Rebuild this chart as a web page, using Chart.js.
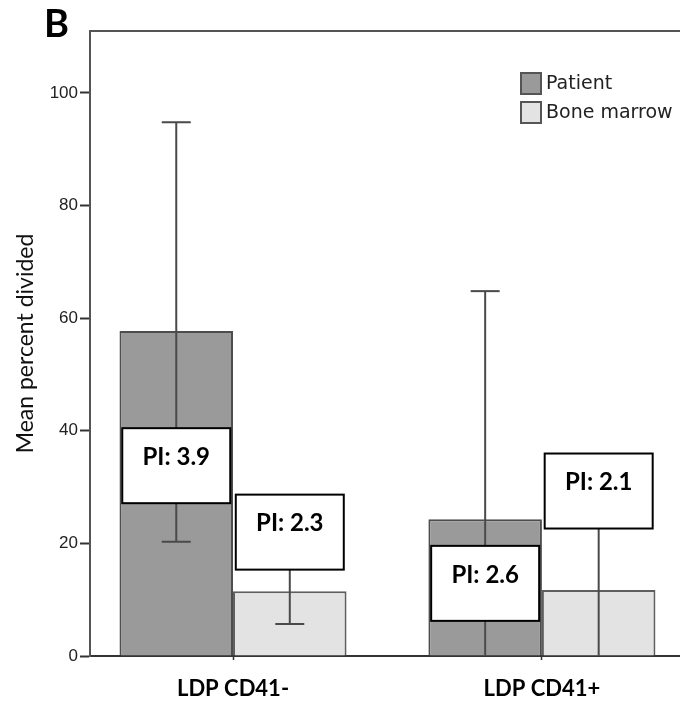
<!DOCTYPE html>
<html>
<head>
<meta charset="utf-8">
<title>Mean percent divided</title>
<script src="https://cdn.jsdelivr.net/npm/chart.js@4.4.1/dist/chart.umd.min.js"></script>
<style>
  html, body { margin: 0; padding: 0; background: #fff; }
  canvas { display: block; }
</style>
</head>
<body>
<canvas id="divided" width="680" height="701"></canvas>
<script>
"use strict";

// data
const categories = ['LDP CD41-', 'LDP CD41+'];
const groups = ['Patient', 'Bone marrow'];

const patientMean = [57.7, 24.3];
const marrowMean = [11.5, 11.7];

// error bar ends (lower end stops at 0 when it would go below)
const patientErrLow = [20.3, 0];
const patientErrHigh = [94.8, 64.8];
const marrowErrLow = [5.7, 0];
const marrowErrHigh = [17.3, 29.5];

const patientPI = ['PI: 3.9', 'PI: 2.6'];
const marrowPI = ['PI: 2.3', 'PI: 2.1'];

const yTicks = [0, 20, 40, 60, 80, 100];


// error bars + PI boxes on top of the bars
const errorBars = {
  id: 'errorBars',
  afterDatasetsDraw(chart, args, opts) {
    let ctx = chart.ctx;
    let yScale = chart.scales.y;
    ctx.save();

    chart.data.datasets.forEach((ds, d) => {
      let meta = chart.getDatasetMeta(d);
      meta.data.forEach((bar, i) => {
        let top = yScale.getPixelForValue(ds.errHigh[i]);
        let bottom = yScale.getPixelForValue(ds.errLow[i]);
        ctx.strokeStyle = '#4a4a4a';
        ctx.lineWidth = 2;
        ctx.beginPath();
        ctx.moveTo(bar.x, top);
        ctx.lineTo(bar.x, bottom);
        ctx.stroke();
        // caps
        ctx.beginPath();
        ctx.moveTo(bar.x - opts.cap, top);
        ctx.lineTo(bar.x + opts.cap, top);
        if (ds.errLow[i] > 0) {
          ctx.moveTo(bar.x - opts.cap, bottom);
          ctx.lineTo(bar.x + opts.cap, bottom);
        }
        ctx.stroke();
      });
    });

    // PI label boxes
    chart.data.datasets.forEach((ds, d) => {
      let meta = chart.getDatasetMeta(d);
      meta.data.forEach((bar, i) => {
        let cy = yScale.getPixelForValue(opts.levels[d][i]);
        let x0 = bar.x - opts.boxW / 2;
        let y0 = cy - opts.boxH / 2;
        ctx.fillStyle = '#fff';
        ctx.fillRect(x0, y0, opts.boxW, opts.boxH);
        ctx.strokeStyle = '#000';
        ctx.lineWidth = 2;
        ctx.strokeRect(x0, y0, opts.boxW, opts.boxH);
        ctx.fillStyle = '#000';
        ctx.font = 'bold 24px Lato';
        ctx.textAlign = 'center';
        ctx.textBaseline = 'middle';
        ctx.fillText(ds.pi[i], bar.x, y0 + 29);
      });
    });

    ctx.restore();
  }
};

// frame top line, legend, panel letter
const extras = {
  id: 'extras',
  afterDraw(chart) {
    let ctx = chart.ctx;
    let area = chart.chartArea;
    ctx.save();

    ctx.strokeStyle = '#555';
    ctx.lineWidth = 2;
    ctx.beginPath();
    ctx.moveTo(area.left - 1, area.top);
    ctx.lineTo(area.right, area.top);
    ctx.stroke();

    // legend
    chart.data.datasets.forEach((ds, d) => {
      let y = 73 + d * 29;
      ctx.fillStyle = ds.backgroundColor;
      ctx.fillRect(521, y, 20, 21);
      ctx.strokeStyle = '#555';
      ctx.lineWidth = 2;
      ctx.strokeRect(521, y, 20, 21);
      ctx.fillStyle = '#222';
      ctx.font = '19px "DejaVu Sans"';
      ctx.textAlign = 'left';
      ctx.textBaseline = 'middle';
      ctx.fillText(ds.label, 546, y + 11);
    });

    ctx.fillStyle = '#000';
    ctx.font = 'bold 38px Lato';
    ctx.textAlign = 'left';
    ctx.textBaseline = 'alphabetic';
    ctx.fillText('B', 44, 37);

    ctx.restore();
  }
};


let ctx = document.getElementById('divided');

let dividedChart = new Chart(ctx, {
  type: 'bar',
  data: {
    datasets: [
      {
        label: groups[0],
        data: patientMean.map((v, i) => ({ x: i, y: v })),
        errLow: patientErrLow,
        errHigh: patientErrHigh,
        pi: patientPI,
        backgroundColor: '#9a9a9a',
        borderColor: '#4d4d4d',
        borderWidth: 2
      },
      {
        label: groups[1],
        data: marrowMean.map((v, i) => ({ x: i, y: v })),
        errLow: marrowErrLow,
        errHigh: marrowErrHigh,
        pi: marrowPI,
        backgroundColor: '#e3e3e3',
        borderColor: '#5e5e5e',
        borderWidth: 2
      }
    ]
  },
  options: {
    responsive: false,
    animation: false,
    devicePixelRatio: 1,
    categoryPercentage: 0.735,
    barPercentage: 1,
    layout: { padding: { top: 31, right: 0, left: 0, bottom: 0 } },
    plugins: {
      legend: { display: false },
      tooltip: { enabled: false },
      errorBars: {
        cap: 14.5,
        boxW: 108,
        boxH: 75,
        levels: [[33.8, 12.9], [22.0, 29.3]]
      }
    },
    scales: {
      x: {
        type: 'linear',
        min: -0.463,
        max: 1.447,
        offset: false,
        afterBuildTicks: (axis) => {
          axis.ticks = categories.map((c, i) => ({ value: i }));
        },
        afterFit: (axis) => { axis.height = 45; },
        grid: {
          offset: false,
          drawOnChartArea: false,
          tickLength: 4,
          tickWidth: 1.5,
          tickColor: '#333'
        },
        border: { color: '#333', width: 2 },
        ticks: {
          callback: (v) => categories[v],
          autoSkip: false,
          maxRotation: 0,
          padding: 16,
          color: '#000',
          font: { family: 'Lato', size: 22, weight: 'bold' }
        }
      },
      y: {
        min: 0,
        max: 111,
        afterBuildTicks: (axis) => {
          axis.ticks = yTicks.map(v => ({ value: v }));
        },
        afterFit: (axis) => { axis.width = 90; },
        grid: {
          drawOnChartArea: false,
          tickLength: 10,
          tickWidth: 2,
          tickColor: '#333'
        },
        border: { color: '#555', width: 2 },
        ticks: {
          padding: 2,
          color: '#222',
          font: { family: '"Liberation Sans Narrow", "Liberation Sans"', size: 17 }
        },
        title: {
          display: true,
          text: 'Mean percent divided',
          color: '#111',
          padding: { top: 12, bottom: 0 },
          font: { family: 'Lato', size: 23 }
        }
      }
    }
  },
  plugins: [errorBars, extras]
});
</script>
</body>
</html>
